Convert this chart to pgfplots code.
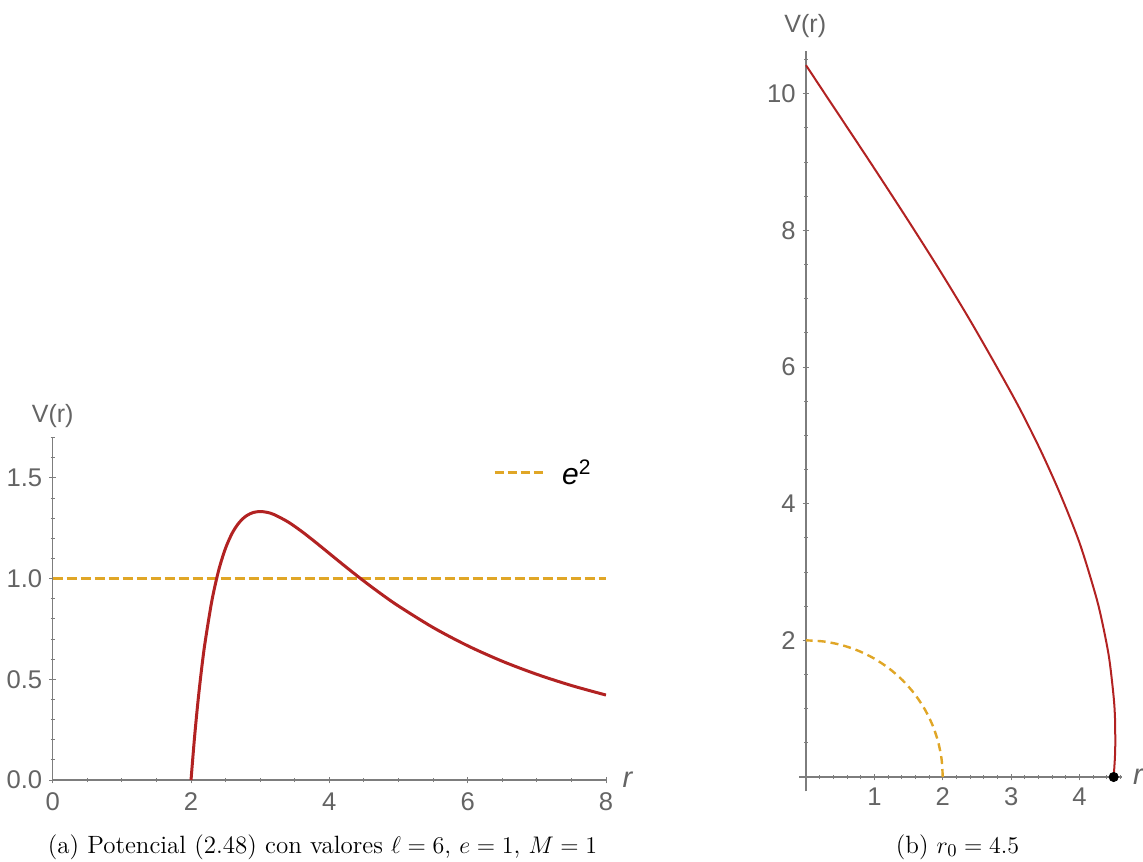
\documentclass[border=0pt]{standalone}
\usepackage{fontspec}
\usepackage{pgfplots}
\pgfplotsset{compat=1.18}
\newfontfamily\plotfont{Liberation Sans}

\definecolor{curvered}{RGB}{178,34,34}
\definecolor{horizon}{RGB}{224,166,38}
\definecolor{axisgray}{RGB}{125,125,125}
\definecolor{labelgray}{RGB}{100,100,100}

\pgfplotsset{
  mmastyle/.style={
    scale only axis,
    tick align=inside,
    major tick length=3.4pt,
    minor tick length=2pt,
    tick style={axisgray, line width=0.5pt},
    /pgf/number format/assume math mode=true,
    ticklabel style={font=\plotfont\fontsize{12.8}{14}\selectfont, text=labelgray},
  },
  plainaxes/.style={
    axis line style={-, axisgray, line width=0.7pt},
    x axis line style={-}, y axis line style={-},
  },
}

% potential V(r) for l = 6, e = 1, M = 1
\pgfplotstableread{
r     V
2.00  0.0000
2.05  0.2089
2.10  0.3887
2.15  0.5434
2.20  0.6762
2.30  0.8876
2.40  1.0417
2.50  1.1520
2.60  1.2289
2.70  1.2803
2.80  1.3120
2.90  1.3285
3.00  1.3333
3.10  1.3293
3.20  1.3184
3.40  1.2823
3.60  1.2346
3.80  1.1809
4.00  1.1250
4.25  1.0552
4.50  0.9877
4.75  0.9238
5.00  0.8640
5.50  0.7573
6.00  0.6667
6.50  0.5899
7.00  0.5248
7.50  0.4693
8.00  0.4219
}\potential

% trajectory starting at r0 = 4.5 (Cartesian x, y)
\pgfplotstableread{
x      y
4.500  0.000
4.517  0.262
4.523  0.450
4.520  0.844
4.499  1.179
4.434  1.738
4.342  2.222
4.239  2.652
4.005  3.414
3.728  4.118
3.433  4.776
3.110  5.421
2.749  6.074
2.366  6.740
1.938  7.444
1.455  8.205
0.908  9.045
0.278  9.996
0.000  10.417
}\orbit

% horizon r = 2M (quarter circle)
\pgfplotstableread{
x       y
2.0000  0.0000
1.9829  0.2611
1.9319  0.5176
1.8478  0.7654
1.7321  1.0000
1.5867  1.2175
1.4142  1.4142
1.2175  1.5867
1.0000  1.7321
0.7654  1.8478
0.5176  1.9319
0.2611  1.9829
0.0000  2.0000
}\horizonarc

\begin{document}
\begin{tikzpicture}[x=1pt,y=1pt]
\path[use as bounding box] (-26.35pt,-40.5pt) rectangle (545.15pt,390pt);

% (a) effective potential
\begin{axis}[mmastyle,
  at={(0pt,0pt)}, anchor=south west,
  width=276.65pt, height=171.15pt,
  axis lines=left, plainaxes,
  xmin=0, xmax=8, ymin=0, ymax=1.7,
  xtick={0,2,4,6,8},
  minor xtick={0.5,1,1.5,2.5,3,3.5,4.5,5,5.5,6.5,7,7.5},
  ytick={0,0.5,1,1.5},
  minor ytick={0.1,0.2,0.3,0.4,0.6,0.7,0.8,0.9,1.1,1.2,1.3,1.4,1.6,1.7},
  yticklabel style={/pgf/number format/.cd, fixed, fixed zerofill, precision=1},
  xticklabel style={yshift=-1pt},
]
\addplot[horizon, line width=1.6pt, dash pattern=on 5pt off 2pt] coordinates {(0,1) (8,1)};
\addplot[curvered, line width=1.5pt, smooth] table[x=r, y=V] {\potential};
% legend sample
\addplot[horizon, line width=1.5pt, dash pattern=on 4.5pt off 2pt] coordinates {(6.39,1.528) (7.12,1.528)};
\node[anchor=west, inner sep=0pt, font=\plotfont\fontsize{15}{17}\selectfont]
  at (axis cs:7.36,1.528) {\itshape e\textsuperscript{\upshape 2}};
\end{axis}

% (b) trajectory
\begin{axis}[mmastyle,
  at={(376.65pt,1.5pt)}, anchor=origin,
  width=161.35pt, height=370pt,
  axis lines=middle, plainaxes,
  xmin=-0.1, xmax=4.62, ymin=-0.21, ymax=10.62,
  xtick={1,2,3,4},
  minor xtick={0.2,0.4,0.6,0.8,1.2,1.4,1.6,1.8,2.2,2.4,2.6,2.8,3.2,3.4,3.6,3.8,4.2,4.4,4.6},
  ytick={2,4,6,8,10},
  minor ytick={0.5,1,1.5,2.5,3,3.5,4.5,5,5.5,6.5,7,7.5,8.5,9,9.5,10.5},
  clip=false,
]
\addplot[horizon, line width=1.2pt, dash pattern=on 4pt off 2.5pt, smooth] table[x=x, y=y] {\horizonarc};
\addplot[curvered, line width=1pt, smooth] table[x=x, y=y] {\orbit};
\addplot[only marks, mark=*, mark size=2.3pt, black] coordinates {(4.5,0)};
\end{axis}

% axis labels
\begin{scope}[font=\plotfont\fontsize{12.5}{14}\selectfont, text=labelgray]
\node at (0pt,182pt) {V(r)};
\node at (376.3pt,376.75pt) {V(r)};
\node[font=\plotfont\fontsize{14.5}{16}\selectfont\itshape] at (287.4pt,0pt) {r};
\node[font=\plotfont\fontsize{14.5}{16}\selectfont\itshape] at (542.6pt,1.5pt) {r};
\end{scope}

% captions
\node[anchor=base, font=\fontsize{12.5}{14}\selectfont] at (134.9pt,-36.5pt)
  {(a) Potencial (2.48) con valores $\ell=6$, $e=1$, $M=1$};
\node[anchor=base, font=\fontsize{12.5}{14}\selectfont] at (452.4pt,-36.5pt)
  {(b) $r_0=4.5$};
\end{tikzpicture}
\end{document}
